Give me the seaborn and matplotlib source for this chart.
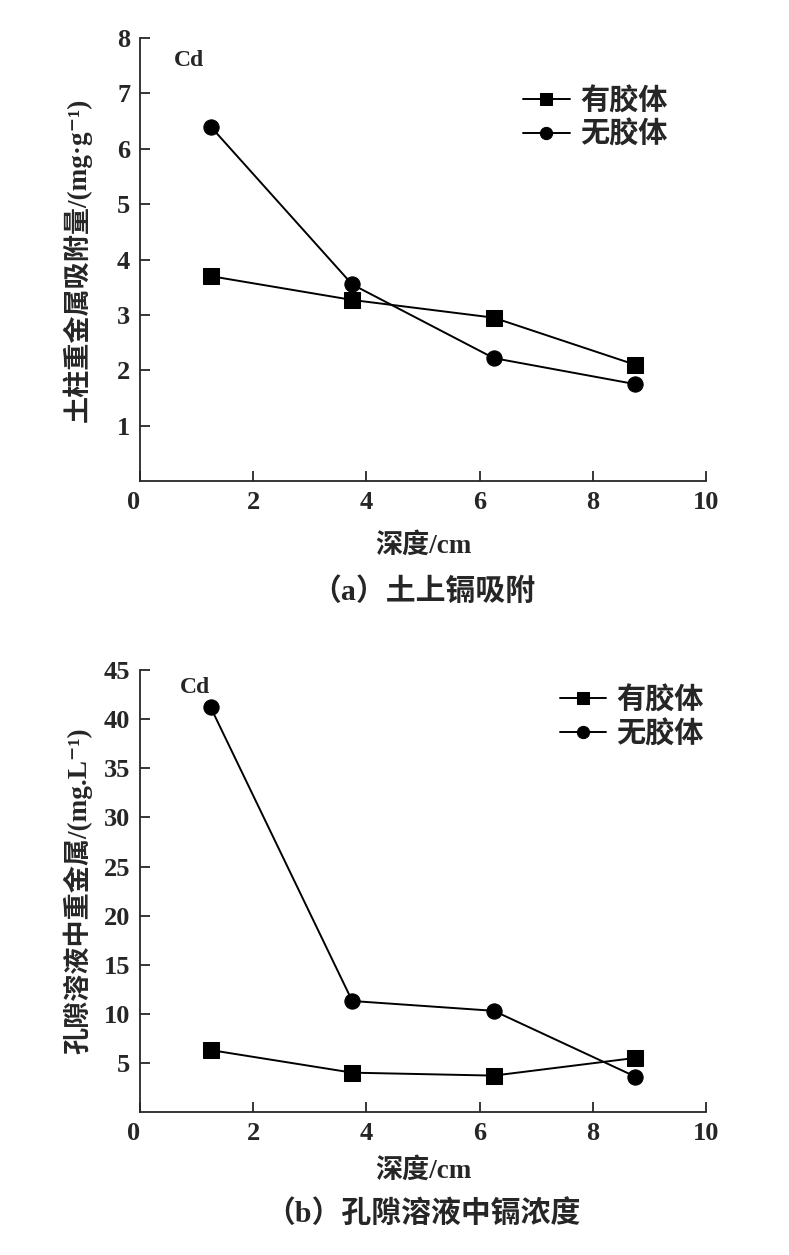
import numpy as np
import pandas as pd
import matplotlib
matplotlib.use("Agg")
import matplotlib.pyplot as plt
import seaborn as sns

# depth of each soil layer (cm)
depth = [1.25, 3.75, 6.25, 8.75]

# (a) adsorbed Cd on soil, mg/g
soil_colloid = [3.70, 3.27, 2.95, 2.10]
soil_no_colloid = [6.40, 3.55, 2.22, 1.75]

# (b) Cd in pore water, mg/L
pore_colloid = [6.3, 4.0, 3.7, 5.5]
pore_no_colloid = [41.2, 11.3, 10.3, 3.6]

series_names = ["有胶体", "无胶体"]

sns.set_style("ticks")
plt.rcParams["font.family"] = ["Liberation Serif", "Noto Sans CJK SC", "DejaVu Serif"]
plt.rcParams["xtick.direction"] = "in"
plt.rcParams["ytick.direction"] = "in"

fig = plt.figure(figsize=(7.89, 12.55), dpi=100)
ax1 = fig.add_axes([0.1774, 0.6167, 0.7174, 0.353])
ax2 = fig.add_axes([0.1774, 0.1140, 0.7174, 0.352])


def draw(ax, v1, v2, ylim, yticks, ylabel, caption, cd_xy, leg_anchor, xlab_y, cap_y):
    df = pd.DataFrame({"depth": depth * 2,
                       "value": v1 + v2,
                       "group": [series_names[0]] * 4 + [series_names[1]] * 4})
    sns.lineplot(data=df, x="depth", y="value", style="group", markers=["s", "o"],
                 dashes=False, color="black", markersize=11, linewidth=1.4,
                 markeredgecolor="black", ax=ax)
    ax.set_xlim(0, 10)
    ax.set_ylim(*ylim)
    ax.set_xticks([0, 2, 4, 6, 8, 10])
    ax.set_yticks(yticks)
    ax.tick_params(axis="both", length=7, width=1.3, labelsize=19, pad=7)
    for lab in ax.get_xticklabels() + ax.get_yticklabels():
        lab.set_fontweight("bold")
    ax.get_xticklabels()[0].set_horizontalalignment("right")
    sns.despine(ax=ax)
    for s in ["left", "bottom"]:
        ax.spines[s].set_linewidth(1.3)
    ax.set_xlabel("深度/cm", fontsize=19.5, fontweight="bold", va="center")
    ax.xaxis.set_label_coords(0.5, xlab_y)
    ax.set_ylabel(ylabel, fontsize=19.5, fontweight="bold")
    ax.yaxis.set_label_coords(-0.085, 0.5)
    ax.text(cd_xy[0], cd_xy[1], "Cd", fontsize=17, fontweight="bold",
            transform=ax.transAxes, va="center")
    ax.text(0.5, cap_y, caption, fontsize=21.5, fontweight="bold", transform=ax.transAxes,
            ha="center", va="center")
    leg = ax.legend(loc="upper left", bbox_to_anchor=leg_anchor, frameon=False,
                    prop={"size": 21, "weight": "bold"}, handlelength=1.6,
                    handletextpad=0.35, labelspacing=0.19, borderaxespad=0,
                    markerscale=0.8)
    for h in leg.legend_handles:
        h.set_color("black")


draw(ax1, soil_colloid, soil_no_colloid, (0, 8), [1, 2, 3, 4, 5, 6, 7, 8],
     "土柱重金属吸附量/(mg·g⁻¹)", "（a）土上镉吸附", (0.06, 0.95), (0.656, 0.916),
     -0.146, -0.25)
draw(ax2, pore_colloid, pore_no_colloid, (0, 45), [5, 10, 15, 20, 25, 30, 35, 40, 45],
     "孔隙溶液中重金属/(mg.L⁻¹)", "（b）孔隙溶液中镉浓度", (0.07, 0.96), (0.721, 0.99),
     -0.134, -0.23)

fig.savefig("out.png", dpi=100, facecolor="white")
